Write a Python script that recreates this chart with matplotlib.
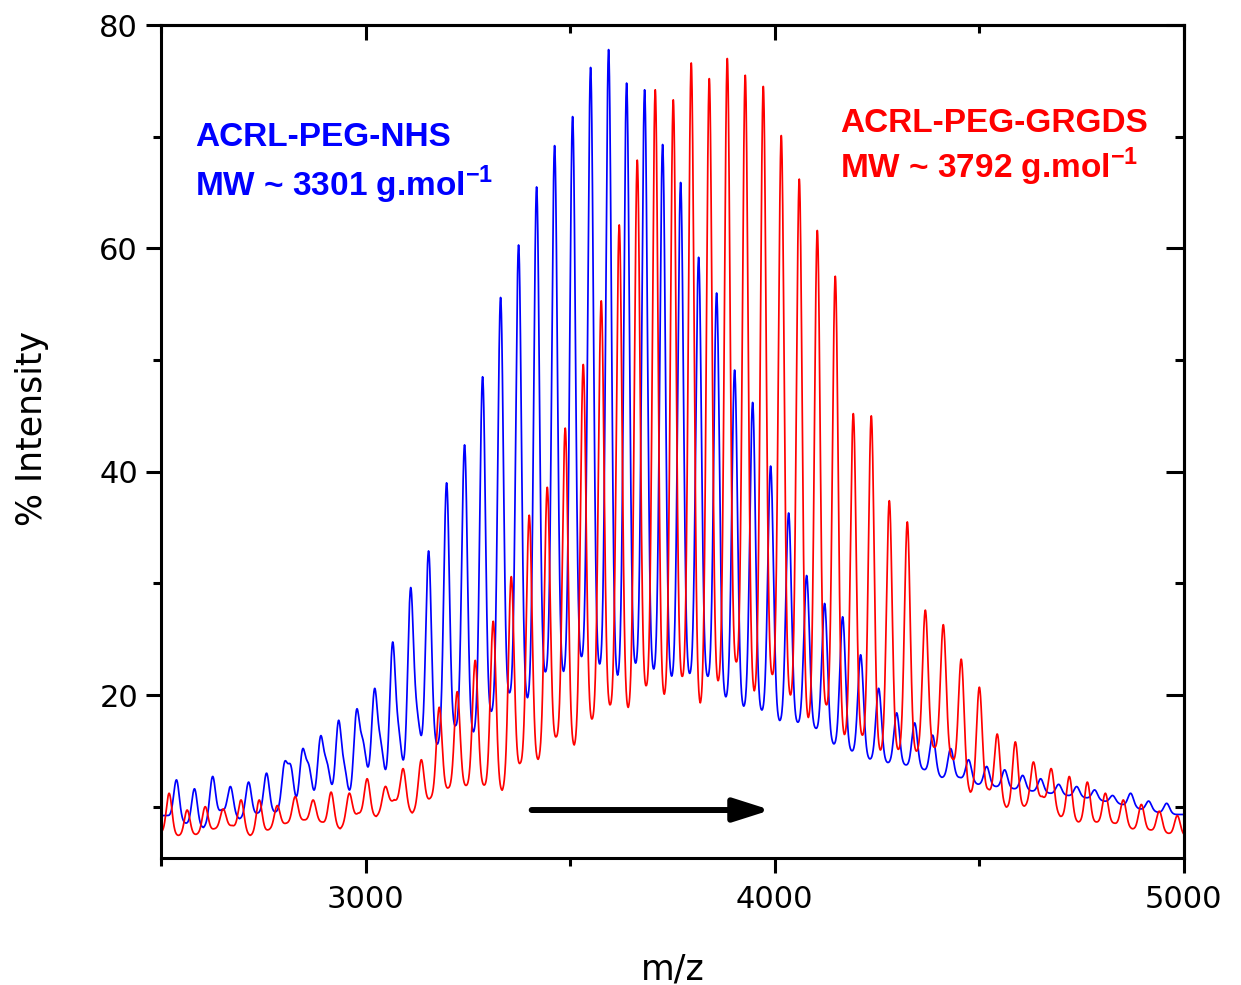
import numpy as np
import matplotlib.pyplot as plt
from matplotlib.ticker import MultipleLocator
from matplotlib.patches import FancyArrowPatch

plt.rcParams['font.family'] = 'DejaVu Sans'
plt.rcParams['mathtext.fontset'] = 'custom'
plt.rcParams['mathtext.rm'] = 'Liberation Sans'
plt.rcParams['mathtext.bf'] = 'Liberation Sans:bold'

# ACRL-PEG-NHS (blue): peak apex m/z and % intensity, then the valleys between peaks
nhs_peak_mz = [2538, 2582, 2626, 2670, 2714, 2758, 2802, 2846, 2890, 2934,
               2978, 3022, 3066, 3110, 3154, 3198, 3242, 3286, 3330, 3374,
               3418, 3462, 3506, 3550, 3594, 3638, 3682, 3726, 3770, 3814,
               3858, 3902, 3946, 3990, 4034, 4078, 4122, 4166, 4210, 4254,
               4298, 4342, 4386, 4430, 4474, 4518, 4562, 4606, 4650, 4694,
               4738, 4782, 4826, 4870, 4914, 4958]
nhs_peak_int = [12.4, 11.6, 12.7, 11.8, 12.2, 13.0, 13.7, 14.9, 16.1, 17.5,
                18.4, 20.3, 24.4, 29.3, 32.9, 39.0, 42.4, 48.5, 55.6, 60.3,
                65.5, 69.2, 71.8, 76.2, 77.8, 74.8, 74.2, 69.3, 65.9, 59.2,
                56.0, 49.1, 46.2, 40.5, 36.3, 30.7, 28.2, 27.0, 23.6, 20.6,
                18.4, 17.5, 16.4, 15.2, 14.2, 13.6, 13.3, 12.8, 12.5, 12.0,
                11.8, 11.5, 11.0, 11.2, 10.5, 10.3]
nhs_valley_mz = [2516, 2560, 2604, 2648, 2692, 2736, 2780, 2824, 2868, 2912,
                 2956, 3000, 3044, 3088, 3132, 3176, 3220, 3264, 3308, 3352,
                 3396, 3440, 3484, 3528, 3572, 3616, 3660, 3704, 3748, 3792,
                 3836, 3880, 3924, 3968, 4012, 4056, 4100, 4144, 4188, 4232,
                 4276, 4320, 4364, 4408, 4452, 4496, 4540, 4584, 4628, 4672,
                 4716, 4760, 4804, 4848, 4892, 4936, 4980]
nhs_valley_int = [9.2, 8.5, 8.1, 9.7, 8.9, 9.4, 9.5, 10.0, 10.6, 11.3,
                  10.4, 12.6, 12.1, 12.5, 14.9, 15.4, 17.0, 16.4, 18.2, 19.8,
                  19.3, 21.6, 21.6, 22.9, 22.2, 21.2, 22.3, 21.8, 21.2, 21.5,
                  21.3, 19.5, 18.7, 18.4, 17.5, 17.4, 16.9, 15.5, 14.9, 14.2,
                  13.9, 13.7, 13.3, 12.6, 12.6, 12.0, 11.8, 11.6, 11.4, 11.2,
                  11.0, 10.8, 10.5, 10.2, 9.8, 9.5, 9.3]
# small shoulder peaks seen beside the low-mass blue peaks
nhs_shoulder_mz = [2817, 2861, 2905, 2949, 2993, 3037, 3081, 3125]
nhs_shoulder_int = [13.4, 13.4, 13.7, 13.1, 15.5, 15.3, 16.1, 17.8]

# ACRL-PEG-GRGDS (red)
grgds_peak_mz = [2520, 2564, 2608, 2652, 2696, 2740, 2784, 2828, 2872, 2916,
                 2960, 3004, 3048, 3092, 3136, 3180, 3224, 3268, 3312, 3356,
                 3400, 3444, 3488, 3532, 3576, 3620, 3664, 3708, 3752, 3796,
                 3840, 3884, 3928, 3972, 4016, 4060, 4104, 4148, 4192, 4236,
                 4280, 4324, 4368, 4412, 4456, 4500, 4544, 4588, 4632, 4676,
                 4720, 4764, 4808, 4852, 4896, 4940, 4984]
grgds_peak_int = [11.2, 9.7, 10.0, 9.8, 10.6, 10.6, 10.1, 10.9, 10.6, 11.3,
                  11.2, 12.5, 11.8, 13.4, 14.2, 18.9, 20.3, 23.1, 26.6, 30.6,
                  36.1, 38.6, 43.9, 49.6, 55.3, 62.1, 67.9, 74.2, 73.3, 76.6,
                  75.2, 77.0, 75.5, 74.5, 70.1, 66.2, 61.6, 57.5, 45.2, 45.0,
                  37.4, 35.5, 27.6, 26.3, 23.2, 20.7, 16.5, 15.8, 14.0, 13.4,
                  12.7, 12.2, 11.2, 10.6, 10.2, 9.6, 9.2]
grgds_valley_mz = [2498, 2542, 2586, 2630, 2674, 2718, 2762, 2806, 2850, 2894,
                   2938, 2982, 3026, 3070, 3114, 3158, 3202, 3246, 3290, 3334,
                   3378, 3422, 3466, 3510, 3554, 3598, 3642, 3686, 3730, 3774,
                   3818, 3862, 3906, 3950, 3994, 4038, 4082, 4126, 4170, 4214,
                   4258, 4302, 4346, 4390, 4434, 4478, 4522, 4566, 4610, 4654,
                   4698, 4742, 4786, 4830, 4874, 4918, 4962, 5006]
grgds_valley_int = [7.7, 7.4, 7.5, 8.0, 8.3, 7.4, 7.9, 8.5, 8.8, 8.6,
                    8.0, 9.4, 9.1, 10.6, 9.4, 10.7, 11.6, 11.8, 11.8, 11.3,
                    13.7, 14.0, 16.0, 15.2, 17.5, 18.7, 18.4, 20.3, 19.5, 21.1,
                    18.7, 20.7, 22.4, 19.8, 21.3, 19.5, 17.5, 18.7, 16.1, 16.1,
                    14.8, 14.9, 14.8, 15.2, 14.2, 11.2, 11.5, 9.9, 10.0, 10.9,
                    9.1, 8.6, 8.6, 8.5, 8.0, 7.9, 7.6, 7.4]

mz = np.arange(2500, 5000.5, 0.5)


def trace(peak_mz, peak_int, valley_mz, valley_int, extra=((), ()), width=6.8):
    base = np.interp(mz, valley_mz, valley_int)
    y = base.copy()
    centres = list(peak_mz) + list(extra[0])
    heights = list(peak_int) + list(extra[1])
    for c, h in zip(centres, heights):
        amp = h - np.interp(c, valley_mz, valley_int)
        y += amp * np.exp(-0.5 * ((mz - c) / width) ** 2)
    return y


blue = trace(nhs_peak_mz, nhs_peak_int, nhs_valley_mz, nhs_valley_int,
             (nhs_shoulder_mz, nhs_shoulder_int))
red = trace(grgds_peak_mz, grgds_peak_int, grgds_valley_mz, grgds_valley_int)

fig = plt.figure(figsize=(12.41, 9.85), dpi=100)
ax = fig.add_axes([0.1297, 0.1289, 0.8243, 0.8457])

ax.plot(mz, blue, color='#0000ff', lw=1.25)
ax.plot(mz, red, color='#ff0000', lw=1.25)

ax.set_xlim(2500, 5000)
ax.set_ylim(5.4, 80)
ax.xaxis.set_major_locator(MultipleLocator(1000))
ax.xaxis.set_minor_locator(MultipleLocator(500))
ax.yaxis.set_major_locator(MultipleLocator(20))
ax.yaxis.set_minor_locator(MultipleLocator(10))
ax.tick_params(which='both', direction='out', width=2.2, labelsize=22)
ax.tick_params(which='major', length=10.5)
ax.tick_params(which='minor', length=5.5)
ax.tick_params(axis='x', pad=9)
ax.tick_params(axis='y', pad=6)
for s in ax.spines.values():
    s.set_linewidth(2.2)

# mirrored ticks on top and right point inwards
top = ax.secondary_xaxis('top')
top.xaxis.set_major_locator(MultipleLocator(1000))
top.xaxis.set_minor_locator(MultipleLocator(500))
top.tick_params(which='both', direction='in', width=2.2, labeltop=False)
top.tick_params(which='major', length=11)
top.tick_params(which='minor', length=6)
top.spines['top'].set_linewidth(2.2)
right = ax.secondary_yaxis('right')
right.yaxis.set_major_locator(MultipleLocator(20))
right.yaxis.set_minor_locator(MultipleLocator(10))
right.tick_params(which='both', direction='in', width=2.2, labelright=False)
right.tick_params(which='major', length=13)
right.tick_params(which='minor', length=6.5)
right.spines['right'].set_linewidth(2.2)

fig.text(0.026, 0.5655, '% Intensity', rotation=90, ha='center', va='center',
         fontsize=25)
fig.text(0.5423, 0.006, 'm/z', ha='center', va='baseline', fontsize=25)

tkw = dict(transform=ax.transAxes, fontsize=24, fontweight='bold',
           family='Liberation Sans', va='baseline', ha='left')
ax.text(0.0332, 0.8547, 'ACRL-PEG-NHS', color='#0000ff', **tkw)
ax.text(0.0332, 0.7947, 'MW ~ 3301 g.mol$^{\\mathbf{-1}}$', color='#0000ff', **tkw)
ax.text(0.6637, 0.8719, 'ACRL-PEG-GRGDS', color='#ff0000', **tkw)
ax.text(0.6637, 0.8160, 'MW ~ 3792 g.mol$^{\\mathbf{-1}}$', color='#ff0000', **tkw)

arrow = FancyArrowPatch((3406, 9.7), (3990, 9.7),
                        arrowstyle='-|>,head_length=1.1,head_width=0.35',
                        mutation_scale=20, lw=4.3, color='black',
                        capstyle='round', joinstyle='round',
                        shrinkA=0, shrinkB=0)
ax.add_patch(arrow)

fig.savefig('out.png', dpi=100)
